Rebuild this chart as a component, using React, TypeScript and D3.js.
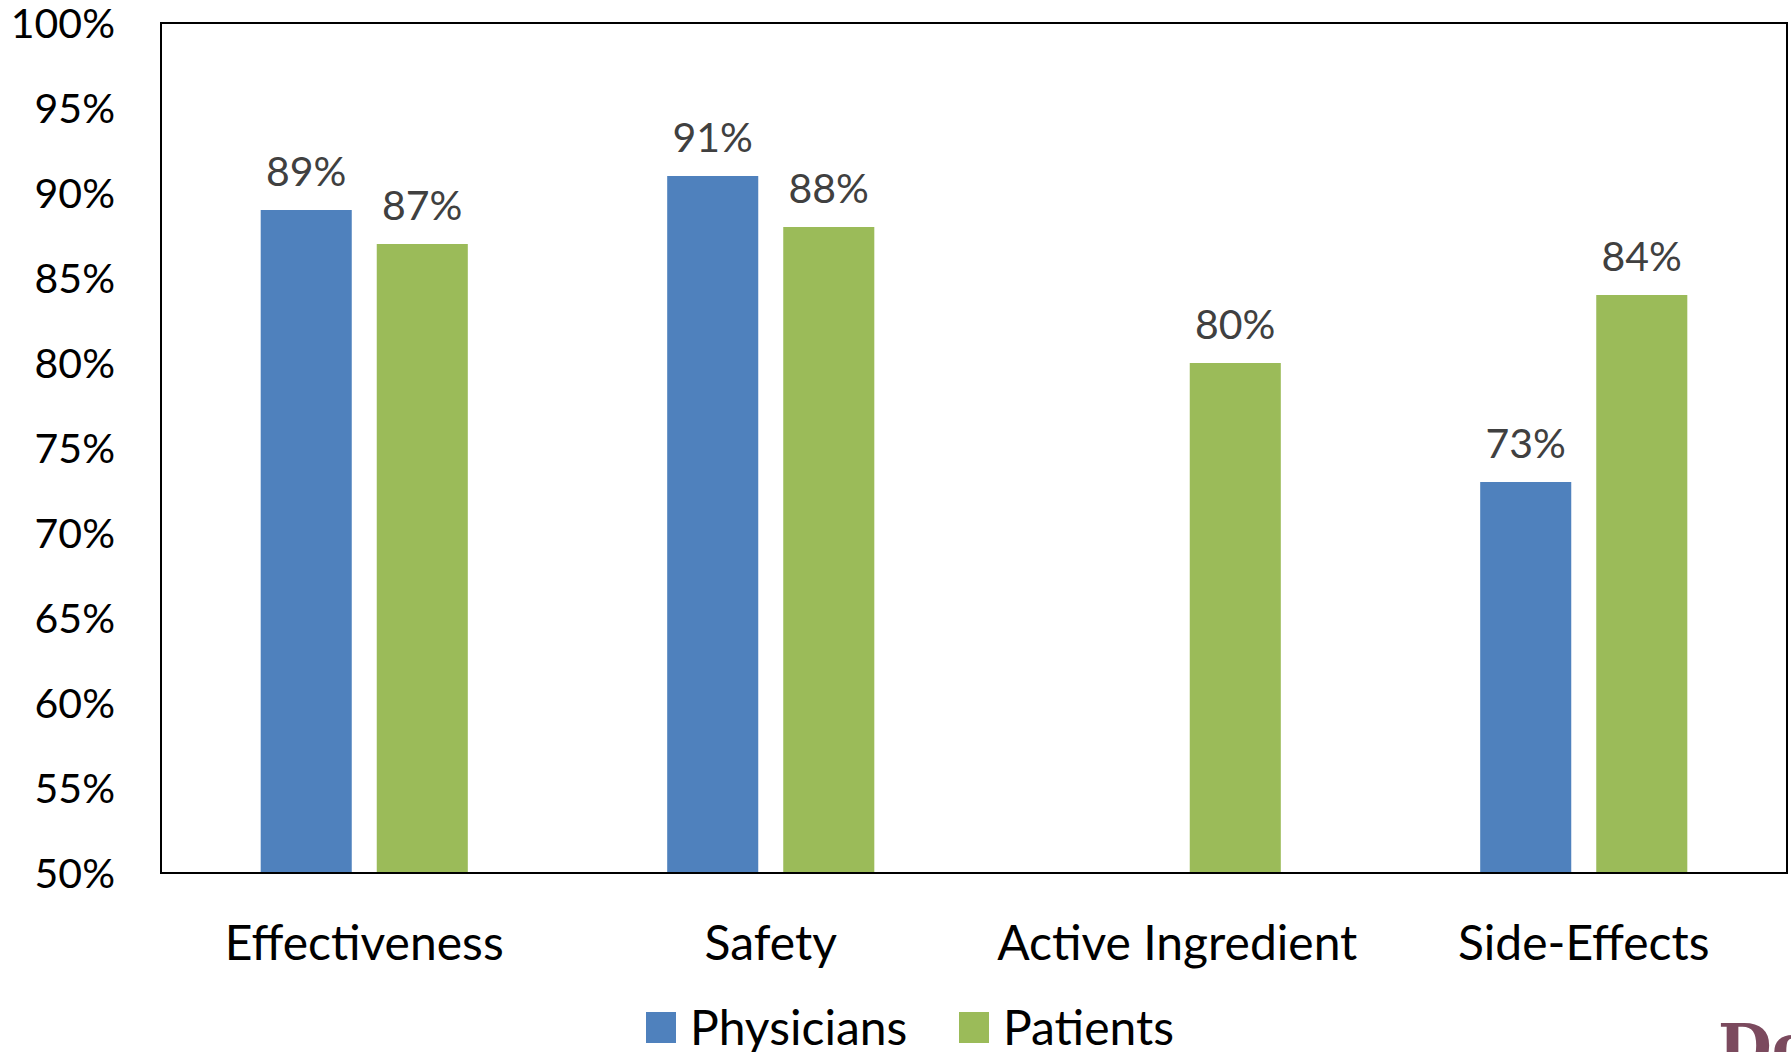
import React from "react";
import * as d3 from "d3";

const categories = ["Effectiveness", "Safety", "Active Ingredient", "Side-Effects"];
const physicians: (number | null)[] = [89, 91, null, 73];
const patients: (number | null)[] = [87, 88, 80, 84];
const seriesNames = ["Physicians", "Patients"];
const seriesColors = ["#4F81BD", "#9BBB59"];
const yTicks = [50, 55, 60, 65, 70, 75, 80, 85, 90, 95, 100];

const W = 1791;
const H = 1052;
const FONT = "Lato, 'Open Sans', sans-serif";

export default function App() {
  const left = 161, right = 1787, top = 23, bottom = 873;
  const x = d3.scaleBand<string>().domain(categories).range([left, right]);
  const y = d3.scaleLinear().domain([50, 100]).range([bottom, top]);
  const barW = x.bandwidth() * 0.224;
  const gap = x.bandwidth() * 0.0615;
  const series = [physicians, patients];

  return (
    <svg width={W} height={H} style={{ position: "absolute", left: 0, top: 0, background: "#fff" }} fontFamily={FONT}>
      <rect x={0} y={0} width={W} height={H} fill="#fff" />
      {yTicks.map((t) => (
        <text key={t} x={115} y={y(t) + 15} textAnchor="end" fontSize={41} fill="#000">
          {t}%
        </text>
      ))}
      {categories.map((c, i) => {
        const cx = (x(c) as number) + x.bandwidth() / 2;
        return (
          <g key={c}>
            {series.map((s, si) => {
              const v = s[i];
              if (v == null) return null;
              const bx = si === 0 ? cx - gap / 2 - barW : cx + gap / 2;
              return (
                <g key={si}>
                  <rect x={bx} y={y(v)} width={barW} height={bottom - y(v)} fill={seriesColors[si]} />
                  <text x={bx + barW / 2} y={y(v) - 24} textAnchor="middle" fontSize={41} fill="#404040">
                    {v}%
                  </text>
                </g>
              );
            })}
            <text x={cx} y={960} textAnchor="middle" fontSize={48} fill="#000">
              {c}
            </text>
          </g>
        );
      })}
      <rect x={left} y={top} width={right - left} height={bottom - top} fill="none" stroke="#000" strokeWidth={2} />
      {seriesNames.map((n, i) => {
        const lx = i === 0 ? 646 : 959;
        return (
          <g key={n}>
            <rect x={lx} y={1012} width={30} height={31} fill={seriesColors[i]} />
            <text x={lx + 44} y={1045} fontSize={48} fill="#000">
              {n}
            </text>
          </g>
        );
      })}
      <text x={1718} y={1068} fontSize={62} fontWeight="bold" fontFamily="'DejaVu Serif', 'Liberation Serif', serif" fill="#7B4A5E">
        Dol
      </text>
    </svg>
  );
}
